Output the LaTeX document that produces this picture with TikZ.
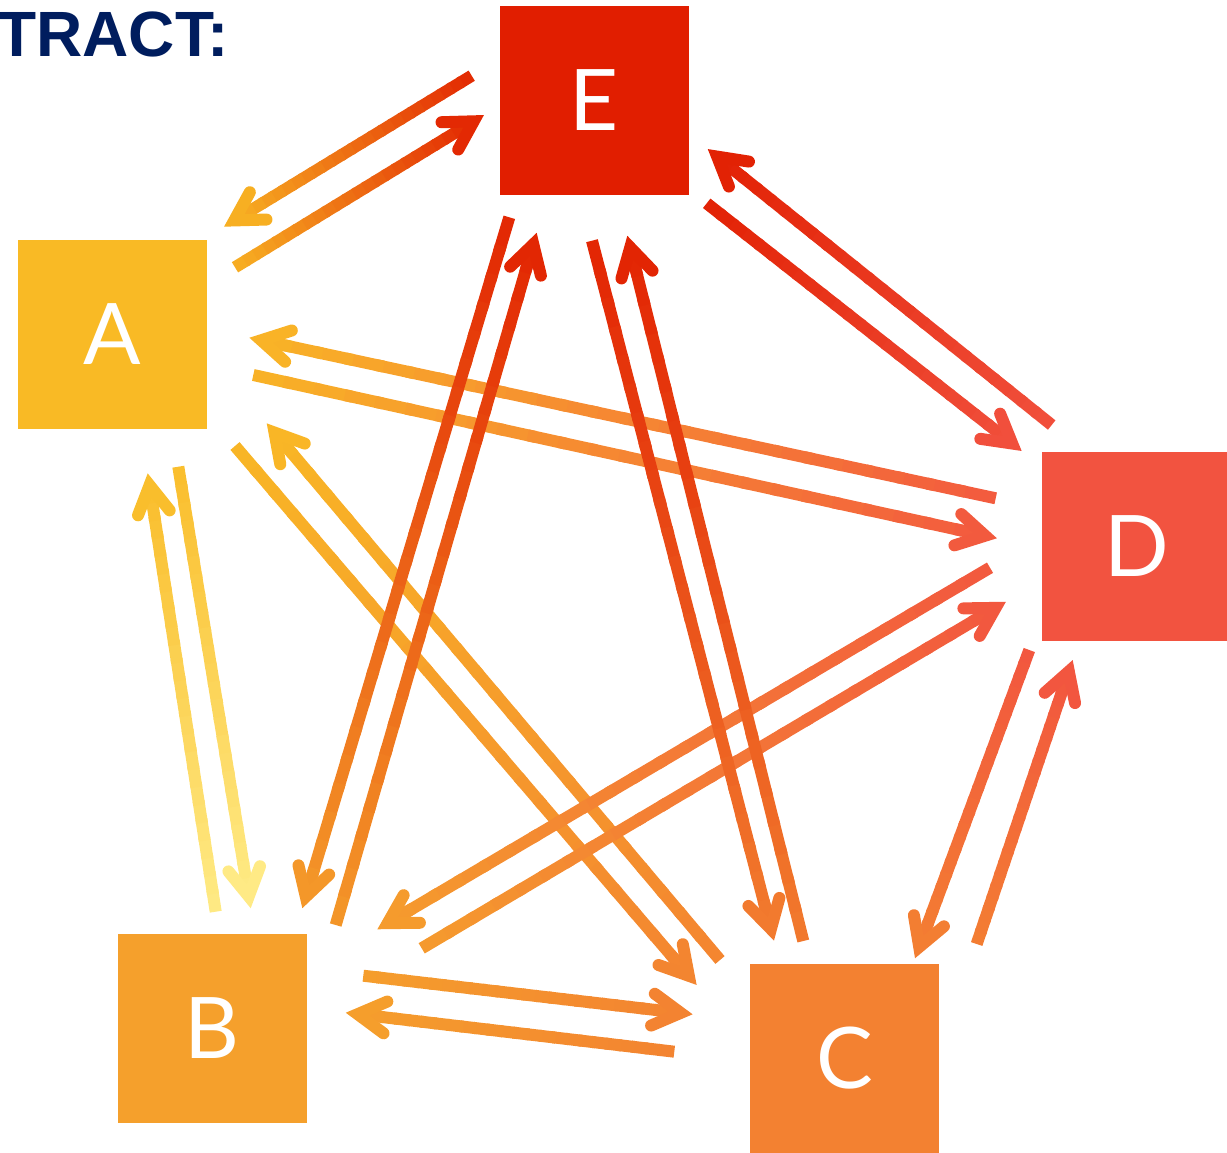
\documentclass[tikz,border=0pt]{standalone}
\usepackage{fontspec}
\setmainfont{Liberation Sans}
\newfontfamily\boxfont{Lato}
\usetikzlibrary{calc}

\definecolor{colE}{HTML}{E11E00}
\definecolor{colA}{HTML}{F9BA25}
\definecolor{colD}{HTML}{F25340}
\definecolor{colB}{HTML}{F5A02C}
\definecolor{colC}{HTML}{F38131}
\definecolor{paleY}{HTML}{FFEE8C}
\definecolor{navy}{HTML}{001D5E}

\tikzset{
  box/.style={fill=#1, minimum size=94.5pt, inner sep=0pt, text=white,
    font=\boxfont\fontsize{42.5}{42.5}\selectfont},
  title/.style={anchor=base west, inner sep=0pt, text=navy,
    font=\bfseries\fontsize{32}{32}\selectfont},
  shaftline/.style={line width=6pt},
  headline/.style={line width=6pt, line cap=round, line join=miter},
}

% gradient arrow: #1 tail coordinate, #2 tip coordinate, #3 tail colour, #4 tip colour
\newcommand\gradarrow[4]{%
  \colorlet{arrtail}{#3}\colorlet{arrtip}{#4}%
  \path let \p1=($(#2)-(#1)$) in \pgfextra{%
    \pgfmathsetmacro\arrang{atan2(\y1,\x1)}%
    \pgfmathsetmacro\arrlen{veclen(\x1,\y1)}%
    \global\let\garrang\arrang\global\let\garrlen\arrlen};
  \begin{scope}[shift={(#1)}, rotate=\garrang, x=1pt, y=1pt]
    \pgfmathsetmacro\shaftlen{\garrlen-6.05}
    \foreach \i in {0,...,23}{%
      \pgfmathtruncatemacro\mixp{round(100*(\i+0.5)/24)}%
      \draw[shaftline, color=arrtip!\mixp!arrtail]
        ({\i*\shaftlen/24},0) -- ({min(\i+1.25,24)*\shaftlen/24},0);
    }
    \draw[headline, color=arrtip]
      (\garrlen-20,8) -- (\garrlen-6.05,0) -- (\garrlen-20,-8);
  \end{scope}
}
% arrow between two boxes, colours taken from the boxes' own colours
\newcommand\boxarrow[4]{\gradarrow{#1}{#2}{#3!93!#4}{#3!7!#4}}

\begin{document}
\begin{tikzpicture}[x=0.5pt, y=-0.5pt]
\useasboundingbox (0,0) rectangle (1227,1152);

% boxes
\node[box=colE] (E) at (594.5,100) {E};
\node[box=colA] (A) at (112.5,334) {A};
\node[box=colD] (D) at (1136.5,546) {D};
\node[box=colB] (B) at (212,1028) {B};
\node[box=colC] (C) at (844.5,1058.5) {C};

\node[title] (head) at (-3,56) {TRACT:};

% arrow end points
\coordinate (EA-t) at (471.7,75.7);   \coordinate (EA-h) at (224,226.7);
\coordinate (AE-t) at (235,267.3);    \coordinate (AE-h) at (484,115);
\coordinate (DE-t) at (1051.7,425);   \coordinate (DE-h) at (707.7,149);
\coordinate (ED-t) at (706.7,203.3);  \coordinate (ED-h) at (1021.7,451);
\coordinate (DA-t) at (995.7,498.3);  \coordinate (DA-h) at (249.3,337.7);
\coordinate (AD-t) at (253.3,375);    \coordinate (AD-h) at (997,538.3);
\coordinate (DB-t) at (990,567.7);    \coordinate (DB-h) at (377.3,929.3);
\coordinate (BD-t) at (421.7,948.3);  \coordinate (BD-h) at (1006,601.7);
\coordinate (DC-t) at (1029.3,650);   \coordinate (DC-h) at (915,958.3);
\coordinate (CD-t) at (976.7,944);    \coordinate (CD-h) at (1072.7,660);
\coordinate (EB-t) at (509.3,217.3);  \coordinate (EB-h) at (302.3,908.3);
\coordinate (BE-t) at (335.7,925);    \coordinate (BE-h) at (536.7,232.7);
\coordinate (EC-t) at (592,240.7);    \coordinate (EC-h) at (774,940.7);
\coordinate (CE-t) at (803.3,941);    \coordinate (CE-h) at (627.3,235.7);
\coordinate (AC-t) at (235,446);      \coordinate (AC-h) at (696.7,985);
\coordinate (CA-t) at (720,960);      \coordinate (CA-h) at (266.7,423.3);
\coordinate (BA-t) at (215.7,911.7);  \coordinate (BA-h) at (147.7,473.3);
\coordinate (AB-t) at (178.3,466.7);  \coordinate (AB-h) at (250.7,908.3);
\coordinate (BC-t) at (363.3,975.7);  \coordinate (BC-h) at (692.7,1014.3);
\coordinate (CB-t) at (674.3,1051.7); \coordinate (CB-h) at (345.7,1012.7);

% outer ring
\boxarrow{EA-t}{EA-h}{colE}{colA}
\boxarrow{AE-t}{AE-h}{colA}{colE}
\boxarrow{BA-t}{BA-h}{paleY}{colA}
\boxarrow{AB-t}{AB-h}{colA}{paleY}
\boxarrow{BC-t}{BC-h}{colB}{colC}
\boxarrow{CB-t}{CB-h}{colC}{colB}
\boxarrow{DC-t}{DC-h}{colD}{colC}
\boxarrow{CD-t}{CD-h}{colC}{colD}
\boxarrow{DE-t}{DE-h}{colD}{colE}
\boxarrow{ED-t}{ED-h}{colE}{colD}

% inner star
\boxarrow{DA-t}{DA-h}{colD}{colA}
\boxarrow{AD-t}{AD-h}{colA}{colD}
\boxarrow{AC-t}{AC-h}{colA}{colC}
\boxarrow{CA-t}{CA-h}{colC}{colA}
\boxarrow{DB-t}{DB-h}{colD}{colB}
\boxarrow{BD-t}{BD-h}{colB}{colD}
\boxarrow{EB-t}{EB-h}{colE}{colB}
\boxarrow{BE-t}{BE-h}{colB}{colE}
\boxarrow{EC-t}{EC-h}{colE}{colC}
\boxarrow{CE-t}{CE-h}{colC}{colE}

\end{tikzpicture}
\end{document}
